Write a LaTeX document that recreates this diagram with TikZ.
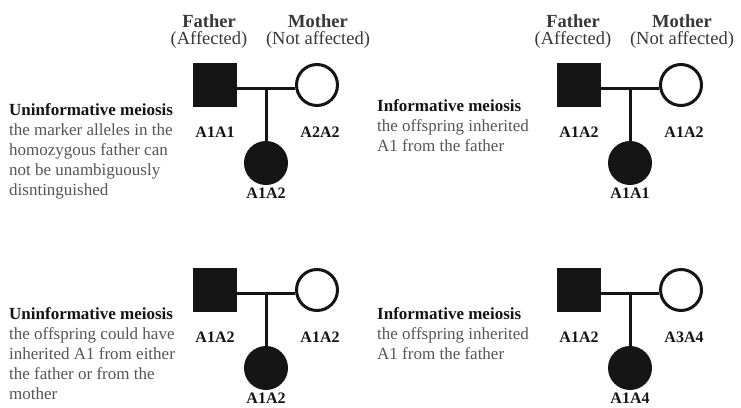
\documentclass[tikz,border=0pt]{standalone}
\usepackage{fontspec}
\setmainfont{Liberation Serif}
\usetikzlibrary{positioning,calc}
\definecolor{ink}{HTML}{151515}
\definecolor{textgray}{HTML}{555555}
\tikzset{
    maleAff/.style={
        rectangle,
        draw=ink,
        fill=ink,
        line width=3pt,
        minimum size=41pt,
        inner sep=0pt
    },
    femaleAff/.style={
        circle,
        draw=ink,
        fill=ink,
        line width=3pt,
        minimum size=41pt,
        inner sep=0pt
    },
    femaleNot/.style={
        circle,
        draw=ink,
        fill=white,
        line width=3pt,
        minimum size=41pt,
        inner sep=0pt
    },
    bond/.style={
        draw=ink,
        line width=3pt
    },
    geno/.style={
        font=\fontsize{16}{16}\selectfont\bfseries,
        text=ink,
        inner sep=0pt
    },
    parent/.style={
        align=center,
        font=\fontsize{18.5}{17}\selectfont,
        text=ink!85,
        inner sep=0pt
    },
    note/.style={
        align=left,
        anchor=north west,
        font=\fontsize{17}{20}\selectfont,
        text=textgray,
        inner sep=0pt
    }
}
\begin{document}
\begin{tikzpicture}[x=1pt,y=-1pt]
    \useasboundingbox [fill=white] (0,0) rectangle (741,407);
    \foreach \n/\px/\py/\gf/\gm/\gc in {1/215/85/A1A1/A2A2/A1A2, 2/579/85/A1A2/A1A2/A1A1,
        3/215/290/A1A2/A1A2/A1A2, 4/579/290/A1A2/A3A4/A1A4} {
        \node [maleAff] (f\n) at (\px,\py) {};
        \node [femaleNot] (m\n) [right=58pt of f\n] {};
        \coordinate (j\n) at ($(f\n)!0.5!(m\n)+(0,3)$);
        \node [femaleAff] (c\n) [below=53pt of j\n] {};
        \draw [bond] (f\n.east |- j\n) -- (m\n.west |- j\n);
        \draw [bond] (j\n) -- (c\n);
        \node [geno] (gf\n) [below=20pt of f\n] {\gf};
        \node [geno] (gm\n) [below=20pt of m\n, xshift=3pt] {\gm};
        \node [geno] (gc\n) [below=3pt of c\n] {\gc};
    }
    % parents, top row only
    \node [parent] (hf1) [above=14pt of f1, xshift=-6pt] {\textbf{Father}\\(Affected)};
    \node [parent] (hm1) [above=14pt of m1, xshift=1pt] {\textbf{Mother}\\(Not affected)};
    \node [parent] (hf2) [above=14pt of f2, xshift=-6pt] {\textbf{Father}\\(Affected)};
    \node [parent] (hm2) [above=14pt of m2, xshift=1pt] {\textbf{Mother}\\(Not affected)};
    % meiosis notes
    \node [note] (n1) at (9,103) {\textcolor{ink}{\textbf{Uninformative meiosis}}\\the marker alleles in the\\homozygous father can\\not be unambiguously\\disntinguished};
    \node [note] (n2) at (377,99) {\textcolor{ink}{\textbf{Informative meiosis}}\\the offspring inherited\\A1 from the father};
    \node [note] (n3) at (9,307) {\textcolor{ink}{\textbf{Uninformative meiosis}}\\the offspring could have\\inherited A1 from either\\the father or from the\\mother};
    \node [note] (n4) at (377,307) {\textcolor{ink}{\textbf{Informative meiosis}}\\the offspring inherited\\A1 from the father};
\end{tikzpicture}
\end{document}
